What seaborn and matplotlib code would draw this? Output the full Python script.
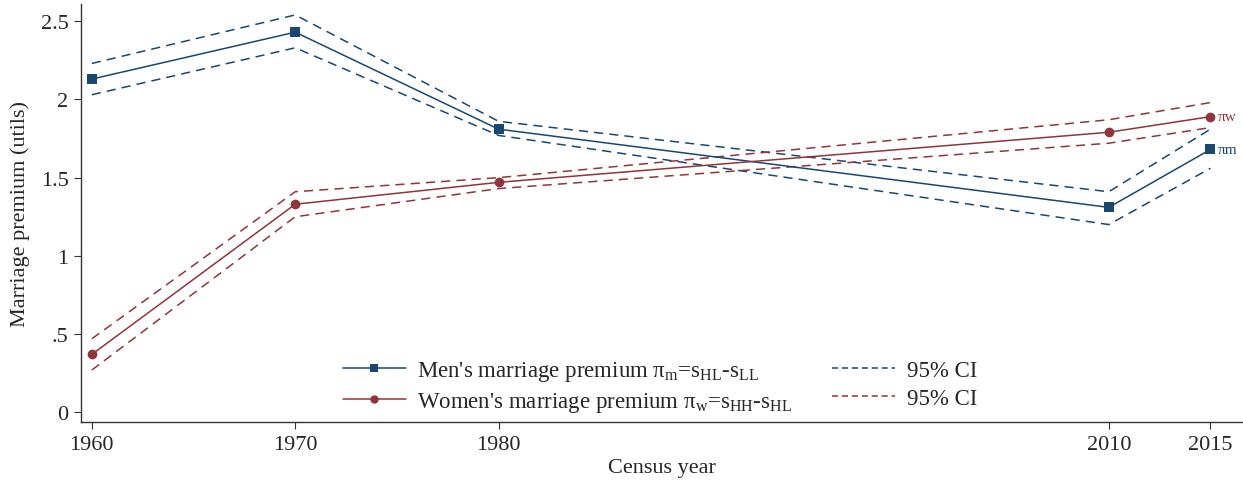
import numpy as np
import pandas as pd
import matplotlib
matplotlib.use("Agg")
import matplotlib.pyplot as plt
from matplotlib.lines import Line2D
import seaborn as sns

# Census years and estimated premiums
years = [1960, 1970, 1980, 2010, 2015]
men = [2.13, 2.43, 1.81, 1.31, 1.68]
men_hi = [2.23, 2.54, 1.86, 1.41, 1.81]
men_lo = [2.03, 2.33, 1.77, 1.20, 1.56]
women = [0.37, 1.33, 1.47, 1.79, 1.89]
women_hi = [0.47, 1.41, 1.50, 1.87, 1.98]
women_lo = [0.27, 1.25, 1.43, 1.72, 1.82]

yticks = [0, 0.5, 1, 1.5, 2, 2.5]
ytick_labels = ["0", ".5", "1", "1.5", "2", "2.5"]

navy = "#1a476f"
maroon = "#90353b"

sns.set_style("white")
plt.rcParams["font.family"] = ["Liberation Serif", "DejaVu Serif"]
plt.rcParams["mathtext.fontset"] = "custom"
plt.rcParams["mathtext.rm"] = "Liberation Serif"
plt.rcParams["mathtext.it"] = "Liberation Serif:italic"

df = pd.DataFrame({"year": years, "men": men, "men_hi": men_hi, "men_lo": men_lo,
                   "women": women, "women_hi": women_hi, "women_lo": women_lo})

fig = plt.figure(figsize=(12.43, 4.85), dpi=100)
ax = fig.add_axes([0.0652, 0.1272, 0.9348, 0.8625])

dash = (0, (6, 4))
lw = 1.1
for col, c in [("men_hi", navy), ("men_lo", navy), ("women_hi", maroon), ("women_lo", maroon)]:
    sns.lineplot(data=df, x="year", y=col, color=c, linestyle=dash, lw=lw, ax=ax)
sns.lineplot(data=df, x="year", y="men", color=navy, lw=lw, marker="s", markersize=7,
             markeredgewidth=0, ax=ax)
sns.lineplot(data=df, x="year", y="women", color=maroon, lw=lw, marker="o", markersize=7,
             markeredgewidth=0, ax=ax)

ax.annotate("\u03c0w", xy=(years[-1], women[-1]), xytext=(5, 0), textcoords="offset points",
            va="center", ha="left", color=maroon, fontsize=11)
ax.annotate("\u03c0m", xy=(years[-1], men[-1]), xytext=(5, 0), textcoords="offset points",
            va="center", ha="left", color=navy, fontsize=11)

ax.set_xlim(1959.47, 2016.6)
ax.set_ylim(-0.064, 2.61)
ax.set_xticks(years)
ax.set_xticklabels([str(y) for y in years])
ax.set_yticks(yticks)
ax.set_yticklabels(ytick_labels)
ax.tick_params(axis="both", labelsize=16, length=5, width=0.8, color="#333333", pad=4,
               bottom=True, left=True)
ax.set_xlabel("Census year", fontsize=16, labelpad=3)
ax.set_ylabel("Marriage premium (utils)", fontsize=16, labelpad=8)
for s in ["top", "right"]:
    ax.spines[s].set_visible(False)
for s in ["left", "bottom"]:
    ax.spines[s].set_color("#333333")
    ax.spines[s].set_linewidth(1.0)

ldash = (0, (4, 2.5))
handles = [
    Line2D([], [], color=navy, lw=lw, marker="s", markersize=6, markeredgewidth=0),
    Line2D([], [], color=maroon, lw=lw, marker="o", markersize=6, markeredgewidth=0),
    Line2D([], [], color=navy, lw=lw, linestyle=ldash),
    Line2D([], [], color=maroon, lw=lw, linestyle=ldash),
]
labels = [
    r"Men's marriage premium $\mathrm{\pi_m}$=s$_\mathrm{HL}$-s$_\mathrm{LL}$",
    r"Women's marriage premium $\mathrm{\pi_w}$=s$_\mathrm{HH}$-s$_\mathrm{HL}$",
    "95% CI",
    "95% CI",
]
ax.legend(handles, labels, ncol=2, loc="lower center", bbox_to_anchor=(0.498, -0.03),
          frameon=False, fontsize=16.5, handlelength=2.75, handletextpad=0.5,
          columnspacing=1.75, labelspacing=0.3)

fig.savefig("out.png", dpi=100)
